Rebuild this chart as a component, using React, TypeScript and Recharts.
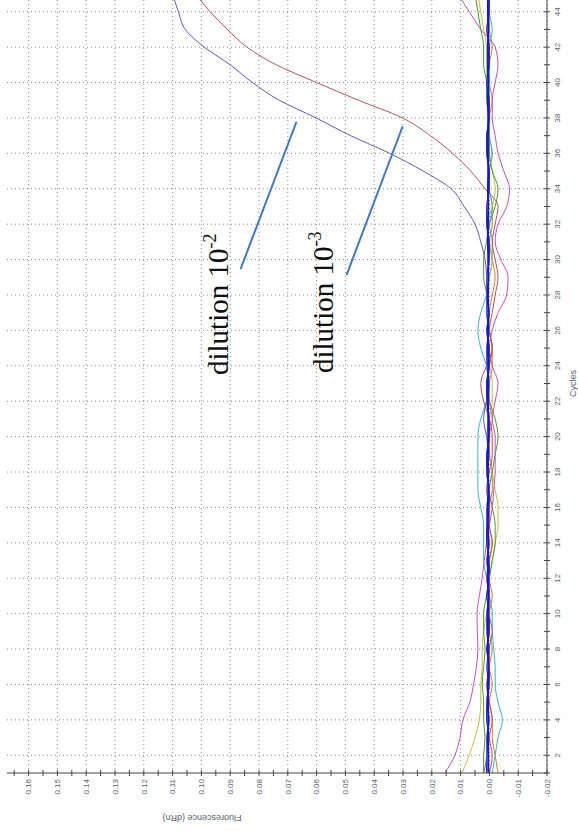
import React from 'react';
import { LineChart, Line, XAxis, YAxis, CartesianGrid, ReferenceLine } from 'recharts';

const CYCLES = [1, 2, 3, 4, 5, 6, 7, 8, 9, 10, 11, 12, 13, 14, 15, 16, 17, 18, 19, 20, 21, 22, 23, 24, 25, 26, 27, 28, 29, 30, 31, 32, 33, 34, 35, 36, 37, 38, 39, 40, 41, 42, 43, 44, 45];

// amplification curves
const DILUTION_2 = [0.002, 0.001, 0.001, 0.0, 0.001, 0.0, 0.001, 0.0, 0.001, 0.001, 0.0, 0.0, 0.001, 0.0, 0.001, 0.001, 0.0, 0.001, 0.0, 0.001, 0.002, 0.001, 0.0, 0.001, 0.001, 0.0, 0.001, 0.001, 0.001, 0.0015, 0.003, 0.005, 0.0088, 0.0133, 0.023, 0.0346, 0.0482, 0.0602, 0.073, 0.0823, 0.09, 0.099, 0.1056, 0.108, 0.11];
const DILUTION_3 = [0.0, -0.001, 0.0, -0.001, 0.0, 0.001, 0.0, 0.0, -0.001, 0.0, 0.0, 0.001, 0.0, -0.001, 0.0, 0.0, 0.001, 0.0, -0.001, -0.001, 0.0, 0.002, 0.003, 0.001, -0.001, 0.0, -0.001, -0.002, -0.003, -0.002, -0.001, -0.002, -0.003, 0.0015, 0.0065, 0.0128, 0.0205, 0.0302, 0.0455, 0.06, 0.074, 0.0842, 0.091, 0.097, 0.102];

// flat / negative wells
const WELL_MAGENTA = [0.0154, 0.012, 0.0102, 0.0092, 0.0068, 0.0055, 0.0045, 0.004, 0.0042, 0.0043, 0.0035, 0.0025, 0.0018, 0.001, 0.0, -0.001, -0.0015, -0.002, -0.002, -0.002, -0.001, -0.002, -0.003, -0.001, 0.0, -0.001, -0.003, -0.006, -0.0065, -0.004, -0.002, -0.003, -0.006, -0.007, -0.005, -0.003, -0.002, -0.001, -0.001, -0.002, -0.003, -0.002, 0.003, 0.007, 0.011];
const WELL_OLIVE = [0.0095, 0.007, 0.005, 0.0035, 0.003, 0.003, 0.0025, 0.0025, 0.002, 0.001, 0.0, 0.0, -0.001, -0.002, -0.003, -0.003, -0.002, -0.001, 0.0, 0.001, 0.0, -0.001, -0.001, 0.0, 0.001, 0.0, 0.0, 0.001, 0.0, -0.001, 0.0, 0.001, -0.001, -0.002, -0.001, 0.0, 0.001, 0.0, 0.0, 0.001, 0.001, 0.001, 0.002, 0.003, 0.004];
const WELL_GREEN = [0.002, 0.002, 0.0015, 0.002, 0.002, 0.0025, 0.002, 0.0015, 0.002, 0.002, 0.001, 0.0, -0.001, -0.002, -0.002, -0.001, 0.0, -0.001, -0.002, -0.003, -0.002, 0.0, 0.001, 0.0, -0.001, 0.0, 0.001, 0.001, 0.002, 0.002, 0.001, 0.0, -0.002, -0.003, -0.001, 0.0, 0.0, 0.0, 0.001, 0.001, 0.002, 0.002, 0.003, 0.004, 0.005];
const WELL_CYAN = [-0.001, -0.002, -0.003, -0.0045, -0.003, -0.002, -0.002, -0.0015, -0.001, -0.001, 0.0, 0.001, 0.002, 0.002, 0.002, 0.003, 0.004, 0.004, 0.004, 0.004, 0.003, 0.001, 0.0, 0.001, 0.003, 0.004, 0.003, 0.001, 0.0, -0.001, -0.001, 0.0, -0.001, 0.0, 0.0, -0.001, 0.0, 0.0, 0.0, 0.0, 0.0, 0.0, -0.001, 0.0, 0.0];
const WELL_ORANGE = [-0.003, -0.002, -0.001, -0.001, 0.0, -0.001, 0.0, -0.001, 0.0, 0.0, -0.001, 0.0, 0.0, -0.001, 0.0, 0.0, -0.001, -0.001, 0.0, 0.0, -0.001, 0.0, 0.0, -0.001, -0.001, 0.0, 0.0, -0.001, -0.002, -0.001, 0.0, -0.001, -0.001, 0.0, 0.0, -0.001, 0.0, 0.0, -0.001, 0.0, 0.0, -0.001, 0.0, 0.0, 0.0];
const WELL_NAVY = [0.001, 0.001, 0.0, 0.001, 0.001, 0.0, 0.0, 0.001, 0.0, 0.0, 0.001, 0.0, 0.0, 0.001, 0.001, 0.0, 0.0, 0.001, 0.001, 0.0, 0.0, 0.001, 0.001, 0.0, 0.0, 0.001, 0.0, 0.001, 0.001, 0.0, 0.0, 0.001, 0.001, 0.0, 0.0, 0.001, 0.001, 0.0, 0.0, 0.001, 0.0, 0.0, 0.001, 0.0, 0.0];
const WELL_BLUE = [0.0004, 0.0004, 0.0005, 0.0004, 0.0005, 0.0005, 0.0004, 0.0005, 0.0005, 0.0005, 0.0004, 0.0005, 0.0005, 0.0004, 0.0005, 0.0005, 0.0004, 0.0005, 0.0005, 0.0004, 0.0004, 0.0005, 0.0005, 0.0004, 0.0005, 0.0005, 0.0004, 0.0005, 0.0004, 0.0004, 0.0005, 0.0005, 0.0004, 0.0005, 0.0004, 0.0005, 0.0005, 0.0004, 0.0005, 0.0004, 0.0005, 0.0005, 0.0004, 0.0005, 0.0005];

const CYCLE_TICKS = [1, 2, 3, 4, 5, 6, 7, 8, 9, 10, 11, 12, 13, 14, 15, 16, 17, 18, 19, 20, 21, 22, 23, 24, 25, 26, 27, 28, 29, 30, 31, 32, 33, 34, 35, 36, 37, 38, 39, 40, 41, 42, 43, 44, 45];
const CYCLE_GRID = [2, 4, 6, 8, 10, 12, 14, 16, 18, 20, 22, 24, 26, 28, 30, 32, 34, 36, 38, 40, 42, 44];
const FLUOR_TICKS = [-0.02, -0.015, -0.01, -0.005, 0, 0.005, 0.01, 0.015, 0.02, 0.025, 0.03, 0.035, 0.04, 0.045, 0.05, 0.055, 0.06, 0.065, 0.07, 0.075, 0.08, 0.085, 0.09, 0.095, 0.1, 0.105, 0.11, 0.115, 0.12, 0.125, 0.13, 0.135, 0.14, 0.145, 0.15, 0.155, 0.16, 0.165];
const FLUOR_GRID = [-0.02, -0.01, 0, 0.01, 0.02, 0.03, 0.04, 0.05, 0.06, 0.07, 0.08, 0.09, 0.1, 0.11, 0.12, 0.13, 0.14, 0.15, 0.16];

// pointer lines: [cycle, dRn] -> [cycle, dRn]
const POINTER_2 = [{ x: 29.46, y: 0.0864 }, { x: 37.78, y: 0.067 }];
const POINTER_3 = [{ x: 29.12, y: 0.0496 }, { x: 37.53, y: 0.0301 }];

const data = CYCLES.map((c, i) => ({
  cycle: c,
  d2: DILUTION_2[i],
  d3: DILUTION_3[i],
  magenta: WELL_MAGENTA[i],
  olive: WELL_OLIVE[i],
  green: WELL_GREEN[i],
  cyan: WELL_CYAN[i],
  orange: WELL_ORANGE[i],
  navy: WELL_NAVY[i],
  blue: WELL_BLUE[i],
}));

const AXIS = '#444';
const LABEL = '#56606a';
const SANS = '"Liberation Sans", Arial, sans-serif';

const CycleTick = (props: any) => {
  const { x, y, payload } = props;
  const major = payload.value % 2 === 0;
  return (
    <g>
      <line x1={x} x2={x} y1={y - 3} y2={y + 3} stroke={AXIS} />
      {major && (
        <text x={x} y={y + 10.5} dy="0.35em" textAnchor="middle" fontSize={8} fill={LABEL} fontFamily={SANS}>
          {payload.value}
        </text>
      )}
    </g>
  );
};

const FluorTick = (props: any) => {
  const { x, y, payload } = props;
  const major = Math.round(payload.value * 1000) % 10 === 0;
  return (
    <g>
      <line x1={x - 3} x2={x + 3} y1={y} y2={y} stroke={AXIS} />
      {major && (
        <text x={x - 6} y={y} dy="0.35em" textAnchor="end" fontSize={8} fill={LABEL} fontFamily={SANS}>
          {payload.value.toFixed(2)}
        </text>
      )}
    </g>
  );
};

const App: React.FC = () => {
  return (
    <div style={{ position: 'absolute', left: 0, top: 0, width: 578, height: 831, overflow: 'hidden', background: '#fff' }}>
      <div
        style={{
          position: 'absolute',
          left: 0,
          top: 0,
          width: 837,
          height: 578,
          transformOrigin: '0 0',
          transform: 'translateY(831px) rotate(-90deg)',
        }}
      >
        <LineChart width={837} height={578} data={data} margin={{ top: 7, right: 0, left: 0, bottom: 0 }}>
          <CartesianGrid
            verticalValues={CYCLE_GRID}
            horizontalValues={FLUOR_GRID}
            stroke="#8a8a8a"
            strokeDasharray="1 3"
          />
          <XAxis
            dataKey="cycle"
            type="number"
            domain={[1, 45]}
            ticks={CYCLE_TICKS}
            interval={0}
            allowDataOverflow
            height={31}
            tickSize={0}
            tickMargin={0}
            tickLine={false}
            axisLine={{ stroke: AXIS }}
            tick={<CycleTick />}
            label={{ value: 'Cycles', position: 'center', dy: 10.5, fontSize: 9, fill: LABEL, fontFamily: SANS }}
          />
          <YAxis
            type="number"
            domain={[-0.02, 0.1675]}
            ticks={FLUOR_TICKS}
            interval={0}
            allowDataOverflow
            width={58}
            tickSize={0}
            tickMargin={0}
            tickLine={false}
            axisLine={{ stroke: AXIS }}
            tick={<FluorTick />}
            label={{ value: 'Fluorescence (dRn)', position: 'center', angle: -90, dx: -16.5, dy: -75, fontSize: 9, fill: LABEL, fontFamily: SANS }}
          />
          <Line type="monotone" dataKey="orange" stroke="#e0782a" strokeWidth={1} dot={false} isAnimationActive={false} />
          <Line type="monotone" dataKey="cyan" stroke="#3ab4c6" strokeWidth={1} dot={false} isAnimationActive={false} />
          <Line type="monotone" dataKey="olive" stroke="#c2bd4a" strokeWidth={1} dot={false} isAnimationActive={false} />
          <Line type="monotone" dataKey="green" stroke="#4c9a2e" strokeWidth={1} dot={false} isAnimationActive={false} />
          <Line type="monotone" dataKey="magenta" stroke="#c24ec2" strokeWidth={1} dot={false} isAnimationActive={false} />
          <Line type="monotone" dataKey="navy" stroke="#2c2c8c" strokeWidth={1} dot={false} isAnimationActive={false} />
          <Line type="monotone" dataKey="d3" stroke="#b45454" strokeWidth={1} dot={false} isAnimationActive={false} />
          <Line type="monotone" dataKey="d2" stroke="#5a5abf" strokeWidth={1} dot={false} isAnimationActive={false} />
          <Line type="monotone" dataKey="blue" stroke="#1414e0" strokeWidth={2} dot={false} isAnimationActive={false} />
          <ReferenceLine segment={POINTER_2} stroke="#3f78c8" strokeWidth={2} ifOverflow="visible" />
          <ReferenceLine segment={POINTER_3} stroke="#3f78c8" strokeWidth={2} ifOverflow="visible" />
        </LineChart>
        <svg width={837} height={578} style={{ position: 'absolute', left: 0, top: 0, pointerEvents: 'none' }}>
          <text x={456} y={228} fontSize={29} fill="#111" fontFamily='"Liberation Serif", "Times New Roman", serif'>
            dilution 10<tspan fontSize={18} dy={-12}>-2</tspan>
          </text>
          <text x={458} y={333} fontSize={29} fill="#111" fontFamily='"Liberation Serif", "Times New Roman", serif'>
            dilution 10<tspan fontSize={18} dy={-12}>-3</tspan>
          </text>
        </svg>
      </div>
    </div>
  );
};

export default App;
